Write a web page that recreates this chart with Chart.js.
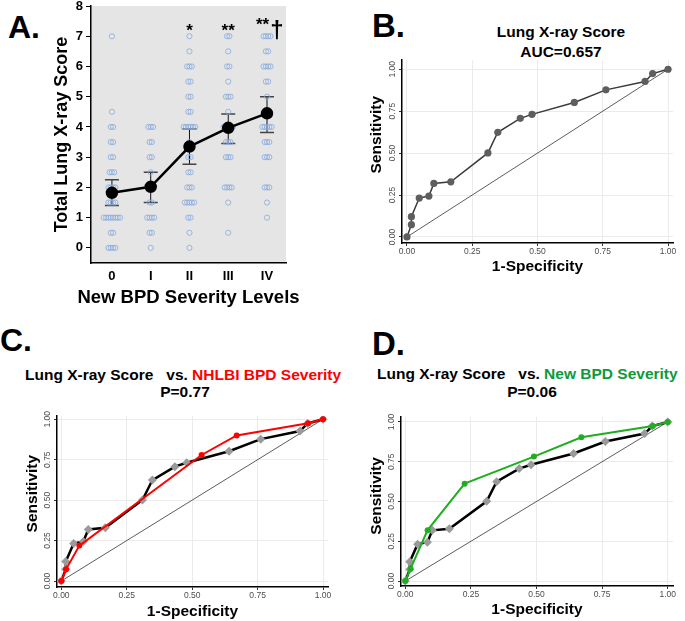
<!DOCTYPE html>
<html>
<head>
<meta charset="utf-8">
<script src="https://cdn.jsdelivr.net/npm/chart.js@4.4.1/dist/chart.umd.min.js"></script>
<style>
  body { margin: 0; width: 685px; height: 621px; position: relative; overflow: hidden; background: #fff;
         font-family: "Liberation Sans", Arial, Helvetica, sans-serif; }
  canvas { position: absolute; }
  .txt { position: absolute; line-height: 1; font-weight: bold; white-space: pre; color: #000; }
  .letter { font-size: 32px; }
  .ttl { font-size: 15.5px; }
  .red { color: #ff0000; }
  .green { color: #0c9a3c; }
</style>
</head>
<body>
<div class="txt letter" style="left:8px; top:11px;">A.</div>
<div class="txt letter" style="left:372px; top:9px; font-size:33px;">B.</div>
<div class="txt letter" style="left:0px; top:324px;">C.</div>
<div class="txt letter" style="left:372px; top:327px; font-size:33px;">D.</div>

<div class="txt ttl" style="left:461px; width:200px; text-align:center; top:24px;">Lung X-ray Score</div>
<div class="txt ttl" style="left:461px; width:200px; text-align:center; top:44px;">AUC=0.657</div>

<div class="txt ttl" style="left:25px; top:367px;">Lung X-ray Score   vs. <span class="red">NHLBI BPD Severity</span></div>
<div class="txt ttl" style="left:135px; width:100px; text-align:center; top:384px;">P=0.77</div>

<div class="txt ttl" style="left:377px; top:366px;">Lung X-ray Score   vs. <span class="green">New BPD Severity</span></div>
<div class="txt ttl" style="left:482px; width:100px; text-align:center; top:384px;">P=0.06</div>

<canvas id="chartA" width="330" height="340" style="left:0; top:-20px;"></canvas>
<canvas id="chartB" width="345" height="250" style="left:340px; top:40px;"></canvas>
<canvas id="chartC" width="345" height="221" style="left:0; top:400px;"></canvas>
<canvas id="chartD" width="340" height="221" style="left:345px; top:400px;"></canvas>

<script>
(function () {
    var FONT = '"Liberation Sans", Arial, Helvetica, sans-serif';
    Chart.defaults.font.family = FONT;
    Chart.defaults.color = '#000';

    // ---- Panel A data ----
    var categories = ['0', 'I', 'II', 'III', 'IV'];
    var meanScore = [1.82, 2.02, 3.35, 3.97, 4.45];
    var errLow = [1.40, 1.50, 2.77, 3.45, 3.82];
    var errHigh = [2.25, 2.50, 3.93, 4.43, 5.00];
    var sigStars = ['', '', '*', '**', '**'];
    var sigDagger = ['', '', '', '', '\u2020'];
    var yTicksA = [0, 1, 2, 3, 4, 5, 6, 7, 8];

    var scores0 = [7, 4.5, 4, 4, 3.5, 3.5, 3, 3, 2.5, 2.5, 2.5, 2, 2, 2, 2, 1.5, 1.5, 1.5, 1.5,
        1, 1, 1, 1, 1, 1, 1, 1, 0.5, 0.5, 0, 0, 0, 0];
    var scoresI = [4, 4, 4, 3.5, 3.5, 3, 3, 2.5, 2, 2, 1.5, 1.5, 1, 1, 1, 1, 0.5, 0.5, 0];
    var scoresII = [7, 6.5, 6, 6, 6, 5.5, 5.5, 5, 5, 4.5, 4.5, 4, 4, 4, 4, 4, 4, 3.5, 3, 3,
        2.5, 2.5, 2, 2, 2, 1.5, 1.5, 1.5, 1.5, 1.5, 1, 1, 0.5, 0];
    var scoresIII = [7, 7, 6.5, 6, 6, 5.5, 5, 5, 5, 4.5, 4, 4, 4, 4, 4, 3.5, 3.5, 3.5,
        3, 3, 3, 2, 2, 2, 2, 1.5, 0.5];
    var scoresIV = [7, 7, 7, 7, 6.5, 6.5, 6, 6, 6, 6, 5.5, 5.5, 5, 4.5, 4, 4, 4, 4, 4,
        3.5, 3.5, 3.5, 3, 3, 3, 2, 2, 2, 1.5, 1];

    // ---- ROC data ----
    var rocTicks = [0, 0.25, 0.5, 0.75, 1];
    var fprScore = [0, 0.017, 0.017, 0.047, 0.084, 0.103, 0.168, 0.31, 0.348, 0.434, 0.479, 0.641, 0.762, 0.912, 0.941, 1];
    var tprScore = [0, 0.073, 0.121, 0.232, 0.244, 0.319, 0.329, 0.501, 0.624, 0.707, 0.731, 0.802, 0.877, 0.927, 0.974, 1];
    var fprNhlbi = [0, 0.018, 0.069, 0.536, 0.67, 0.943, 1];
    var tprNhlbi = [0, 0.072, 0.219, 0.779, 0.90, 0.975, 1];
    var fprNew = [0, 0.02, 0.085, 0.226, 0.49, 0.671, 0.943, 1];
    var tprNew = [0, 0.078, 0.32, 0.612, 0.782, 0.904, 0.975, 1];
    var chanceLine = [0, 1];

    function pairs(xs, ys) {
        return xs.map(function (x, i) { return { x: x, y: ys[i] }; });
    }

    // spread repeated scores side by side around the category position
    function spreadDots(groups) {
        var pts = [];
        groups.forEach(function (vals, gi) {
            var counts = {};
            vals.forEach(function (v) { counts[v] = (counts[v] || 0) + 1; });
            var seen = {};
            vals.forEach(function (v) {
                var k = seen[v] || 0;
                seen[v] = k + 1;
                pts.push({ x: gi + (k - (counts[v] - 1) / 2) * 0.06, y: v });
            });
        });
        return pts;
    }

    var panelA = {
        id: 'panelA',
        beforeDraw: function (chart) {
            var a = chart.chartArea, ctx = chart.ctx;
            ctx.save();
            ctx.fillStyle = '#e5e5e5';
            ctx.fillRect(a.left, a.top, a.right - a.left, a.bottom - a.top);
            ctx.restore();
        },
        beforeDatasetsDraw: function (chart) {
            var xs = chart.scales.x, ys = chart.scales.y, ctx = chart.ctx;
            ctx.save();
            meanScore.forEach(function (m, i) {
                var x = xs.getPixelForValue(i);
                var y1 = ys.getPixelForValue(errLow[i]);
                var y2 = ys.getPixelForValue(errHigh[i]);
                ctx.strokeStyle = '#111';
                ctx.lineWidth = 1;
                ctx.beginPath();
                ctx.moveTo(x, y1); ctx.lineTo(x, y2);
                ctx.stroke();
                ctx.strokeStyle = '#444';
                ctx.lineWidth = 1.5;
                ctx.beginPath();
                ctx.moveTo(x - 7, y1); ctx.lineTo(x + 7, y1);
                ctx.moveTo(x - 7, y2); ctx.lineTo(x + 7, y2);
                ctx.stroke();
            });
            ctx.restore();
        },
        afterDatasetsDraw: function (chart) {
            var xs = chart.scales.x, ys = chart.scales.y, ctx = chart.ctx;
            ctx.save();
            ctx.fillStyle = '#000';
            ctx.textBaseline = 'alphabetic';
            sigStars.forEach(function (s, i) {
                if (!s) return;
                var x = xs.getPixelForValue(i);
                var y = ys.getPixelForValue(i === 4 ? 7.5 : 7.3) + 9;
                ctx.font = 'bold 17px ' + FONT;
                var w = ctx.measureText(s).width;
                if (sigDagger[i]) {
                    ctx.textAlign = 'left';
                    ctx.fillText(s, x - 11, y);
                    ctx.font = 'bold 24px ' + FONT;
                    ctx.fillText(sigDagger[i], x - 11 + w + 1, y + 8);
                } else {
                    ctx.textAlign = 'center';
                    ctx.fillText(s, x, y);
                }
            });
            ctx.restore();
        },
        // x title drawn here so it is not squeezed to the plot width
        afterDraw: function (chart) {
            var a = chart.chartArea, ctx = chart.ctx;
            ctx.save();
            ctx.fillStyle = '#000';
            ctx.font = 'bold 18.5px ' + FONT;
            ctx.textAlign = 'center';
            ctx.textBaseline = 'middle';
            ctx.fillText('New BPD Severity Levels', (a.left + a.right) / 2, a.bottom + 35);
            ctx.restore();
        }
    };

    new Chart(document.getElementById('chartA'), {
        type: 'scatter',
        data: {
            datasets: [
                {
                    data: pairs([0, 1, 2, 3, 4], meanScore),
                    showLine: true,
                    borderColor: '#000',
                    borderWidth: 2.5,
                    pointRadius: 5,
                    pointBackgroundColor: '#000',
                    pointBorderColor: '#000'
                },
                {
                    data: spreadDots([scores0, scoresI, scoresII, scoresIII, scoresIV]),
                    showLine: false,
                    pointRadius: 2.6,
                    pointBackgroundColor: 'rgba(0,0,0,0)',
                    pointBorderColor: '#88aadd',
                    pointBorderWidth: 0.8
                }
            ]
        },
        options: {
            responsive: false,
            animation: false,
            devicePixelRatio: 1,
            layout: { padding: { left: 0, top: 26, right: 44, bottom: 12 } },
            plugins: { legend: { display: false }, tooltip: { enabled: false } },
            scales: {
                x: {
                    min: -0.54, max: 4.49,
                    afterBuildTicks: function (s) { s.ticks = [0, 1, 2, 3, 4].map(function (v) { return { value: v }; }); },
                    afterFit: function (s) { s.height = 45; },
                    grid: { display: false, drawTicks: false },
                    border: { display: true, color: '#000', width: 1.5 },
                    ticks: {
                        font: { size: 13, weight: 'bold' }, color: '#000', padding: 6, maxRotation: 0,
                        callback: function (v) { return categories[v]; }
                    }
                },
                y: {
                    min: -0.5, max: 8,
                    afterBuildTicks: function (s) { s.ticks = yTicksA.map(function (v) { return { value: v }; }); },
                    afterFit: function (s) { s.width = 91; },
                    grid: { display: true, drawOnChartArea: false, color: '#000', tickLength: 5 },
                    border: { display: true, color: '#000', width: 1.5 },
                    ticks: { font: { size: 13, weight: 'bold' }, color: '#000', padding: 3 },
                    title: { display: true, text: 'Total Lung X-ray Score', font: { size: 18, weight: 'bold' }, padding: { top: 51, bottom: 0 } }
                }
            }
        },
        plugins: [panelA]
    });

    // rotated y tick labels and the y title of the ROC panels
    var rocDecor = {
        id: 'rocDecor',
        afterDraw: function (chart, args, opts) {
            var ys = chart.scales.y, ctx = chart.ctx;
            ctx.save();
            ctx.fillStyle = '#4d4d4d';
            ctx.font = '8.5px ' + FONT;
            ctx.textAlign = 'center';
            ctx.textBaseline = 'middle';
            rocTicks.forEach(function (v) {
                ctx.save();
                ctx.translate(ys.right - 9.5, ys.getPixelForValue(v));
                ctx.rotate(-Math.PI / 2);
                ctx.fillText(v.toFixed(2), 0, 0);
                ctx.restore();
            });
            ctx.fillStyle = '#000';
            ctx.font = 'bold 15.5px ' + FONT;
            ctx.translate(opts.titleX, ys.getPixelForValue(opts.titleAt));
            ctx.rotate(-Math.PI / 2);
            ctx.fillText('Sensitivity', 0, 0);
            ctx.restore();
        }
    };

    function rocChart(id, datasets, box, decor) {
        return new Chart(document.getElementById(id), {
            type: 'scatter',
            data: { datasets: datasets },
            options: {
                responsive: false,
                animation: false,
                devicePixelRatio: 1,
                layout: { padding: box.padding },
                plugins: { legend: { display: false }, tooltip: { enabled: false }, rocDecor: decor },
                scales: {
                    x: {
                        min: box.xMin, max: box.xMax,
                        afterBuildTicks: function (s) { s.ticks = rocTicks.map(function (v) { return { value: v }; }); },
                        afterFit: function (s) { s.height = box.xHeight; },
                        grid: { color: '#ebebeb', tickColor: '#333', tickLength: 3 },
                        border: { color: '#000', width: 1.5 },
                        ticks: {
                            font: { size: 8.5 }, color: '#4d4d4d', padding: 1, maxRotation: 0,
                            callback: function (v) { return Number(v).toFixed(2); }
                        },
                        title: { display: true, text: '1-Specificity', font: { size: 15.5, weight: 'bold' }, padding: { top: 0, bottom: box.xTitlePad } }
                    },
                    y: {
                        min: box.yMin, max: box.yMax,
                        afterBuildTicks: function (s) { s.ticks = rocTicks.map(function (v) { return { value: v }; }); },
                        afterFit: function (s) { s.width = box.yWidth; },
                        grid: { color: '#ebebeb', tickColor: '#333', tickLength: 3 },
                        border: { color: '#000', width: 1.5 },
                        ticks: { display: false }
                    }
                }
            },
            plugins: [rocDecor]
        });
    }

    function chanceSet() {
        return {
            data: pairs(chanceLine, chanceLine),
            showLine: true, borderColor: '#333', borderWidth: 0.8, pointRadius: 0
        };
    }

    function scoreSet(diamonds) {
        return diamonds ? {
            data: pairs(fprScore, tprScore),
            showLine: true, borderColor: '#000', borderWidth: 2.5,
            pointStyle: 'rectRot', pointRadius: 4.5,
            pointBackgroundColor: '#9a9a9a', pointBorderColor: '#9a9a9a', pointBorderWidth: 0
        } : {
            data: pairs(fprScore, tprScore),
            showLine: true, borderColor: '#3a3a3a', borderWidth: 1.5,
            pointRadius: 3.6, pointBackgroundColor: '#5e5e5e', pointBorderColor: '#5e5e5e', pointBorderWidth: 0
        };
    }

    rocChart('chartB', [scoreSet(false), chanceSet()], {
        padding: { left: 0, top: 20, right: 12, bottom: 7 },
        xMin: -0.019, xMax: 1.019, yMin: -0.036, yMax: 1.055,
        xHeight: 40, yWidth: 62, xTitlePad: 6.5
    }, { titleX: 37, titleAt: 0.61 });

    rocChart('chartC', [
        {
            data: pairs(fprNhlbi, tprNhlbi),
            showLine: true, borderColor: '#ff0000', borderWidth: 2,
            pointRadius: 3, pointBackgroundColor: '#ff0000', pointBorderColor: '#ff0000', pointBorderWidth: 0
        },
        scoreSet(true),
        chanceSet()
    ], {
        padding: { left: 0, top: 16, right: 17, bottom: 0 },
        xMin: -0.0165, xMax: 1.019, yMin: -0.037, yMax: 1.02,
        xHeight: 34, yWidth: 57, xTitlePad: 0
    }, { titleX: 33, titleAt: 0.54 });

    rocChart('chartD', [
        {
            data: pairs(fprNew, tprNew),
            showLine: true, borderColor: '#1fae1f', borderWidth: 2,
            pointRadius: 3, pointBackgroundColor: '#1fae1f', pointBorderColor: '#1fae1f', pointBorderWidth: 0
        },
        scoreSet(true),
        chanceSet()
    ], {
        padding: { left: 0, top: 17, right: 12, bottom: 0 },
        xMin: -0.0164, xMax: 1.02, yMin: -0.031, yMax: 1.031,
        xHeight: 35, yWidth: 56, xTitlePad: 1.5
    }, { titleX: 32, titleAt: 0.535 });
})();
</script>
</body>
</html>
